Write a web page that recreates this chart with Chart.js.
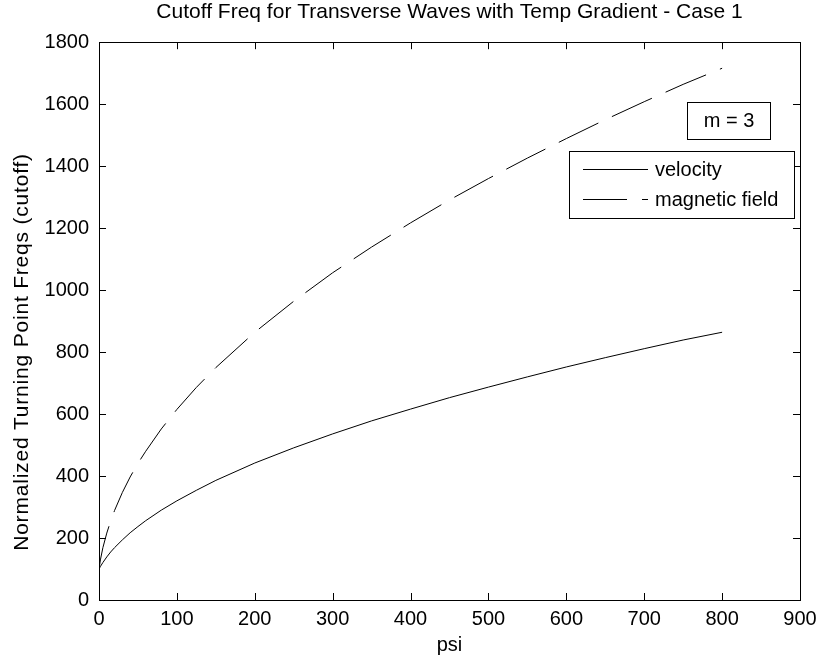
<!DOCTYPE html>
<html>
<head>
<meta charset="utf-8">
<title>Cutoff Freq for Transverse Waves</title>
<script src="https://cdn.jsdelivr.net/npm/chart.js@4.4.1/dist/chart.umd.min.js"></script>
<style>
  html, body { margin: 0; padding: 0; background: #fff; }
  #wrap { width: 827px; height: 659px; }
</style>
</head>
<body>
<div id="wrap"><canvas id="cutoffChart" width="827" height="659"></canvas></div>
<script>
// values
const psi = [0, 2, 5, 10, 15, 20, 30, 40, 50, 60, 80, 100, 125, 150, 200, 250, 300, 350, 400, 450, 500, 550, 600, 650, 700, 750, 800];
const velocity = [100, 109, 121, 139, 155, 169, 194, 217, 237, 256, 290, 320, 354, 386, 442, 491, 536, 578, 616, 653, 687, 720, 752, 782, 811, 839, 864];
const magneticField = [100, 132, 169, 216, 255, 289, 347, 397, 441, 480, 552, 615, 686, 750, 864, 964, 1056, 1139, 1217, 1291, 1360, 1426, 1489, 1550, 1608, 1664, 1716];

const seriesNames = ['velocity', 'magnetic field'];
const xTicks = [0, 100, 200, 300, 400, 500, 600, 700, 800, 900];
const yTicks = [0, 200, 400, 600, 800, 1000, 1200, 1400, 1600, 1800];
const annotationText = 'm = 3';
const yTitle = 'Normalized Turning Point Freqs (cutoff)';

const FONT = '"Liberation Sans", Arial, Helvetica, sans-serif';
Chart.defaults.font.family = FONT;
Chart.defaults.font.size = 20;
Chart.defaults.color = '#000';

function toPoints(xs, ys) {
    return xs.map((x, i) => ({ x: x, y: ys[i] }));
}

// MATLAB style box: frame plus inward ticks on all four sides
const matlabBox = {
    id: 'matlabBox',
    afterDatasetsDraw(chart) {
        const ctx = chart.ctx;
        const area = chart.chartArea;
        const xs = chart.scales.x;
        const ys = chart.scales.y;
        const tick = 7;
        ctx.save();
        ctx.strokeStyle = '#000';
        ctx.lineWidth = 1;
        ctx.beginPath();
        xTicks.forEach(v => {
            const px = Math.round(xs.getPixelForValue(v)) + 0.5;
            ctx.moveTo(px, area.bottom);
            ctx.lineTo(px, area.bottom - tick);
            ctx.moveTo(px, area.top);
            ctx.lineTo(px, area.top + tick);
        });
        yTicks.forEach(v => {
            const py = Math.round(ys.getPixelForValue(v)) + 0.5;
            ctx.moveTo(area.left, py);
            ctx.lineTo(area.left + tick, py);
            ctx.moveTo(area.right, py);
            ctx.lineTo(area.right - tick, py);
        });
        ctx.stroke();
        ctx.strokeRect(Math.round(area.left) + 0.5, Math.round(area.top) + 0.5,
            Math.round(area.right - area.left), Math.round(area.bottom - area.top));

        // y axis label, a bit wider and lower than the chart.js default one
        ctx.translate(22, 352);
        ctx.rotate(-Math.PI / 2);
        ctx.font = '21px ' + FONT;
        ctx.letterSpacing = '0.8px';
        ctx.fillStyle = '#000';
        ctx.textAlign = 'center';
        ctx.textBaseline = 'middle';
        ctx.fillText(yTitle, 0, 0);
        ctx.restore();
    }
};

// legend box and the "m = 3" text box, placed inside the axes like the original
const legendBoxes = {
    id: 'legendBoxes',
    afterDraw(chart) {
        const ctx = chart.ctx;
        ctx.save();
        ctx.strokeStyle = '#000';
        ctx.lineWidth = 1;
        ctx.fillStyle = '#fff';

        // annotation
        ctx.fillRect(687, 102, 83, 37);
        ctx.strokeRect(687.5, 102.5, 83, 37);
        ctx.fillStyle = '#000';
        ctx.font = '20px ' + FONT;
        ctx.textAlign = 'center';
        ctx.textBaseline = 'middle';
        ctx.fillText(annotationText, 729, 121);

        // legend
        ctx.fillStyle = '#fff';
        ctx.fillRect(569, 151, 225, 67);
        ctx.strokeRect(569.5, 151.5, 225, 67);
        const rows = [169, 199];
        chart.data.datasets.forEach((ds, i) => {
            const y = rows[i] + 0.5;
            ctx.strokeStyle = ds.borderColor;
            ctx.setLineDash(ds.borderDash || []);
            ctx.beginPath();
            ctx.moveTo(583, y);
            ctx.lineTo(648, y);
            ctx.stroke();
            ctx.setLineDash([]);
            ctx.fillStyle = '#000';
            ctx.textAlign = 'left';
            ctx.fillText(ds.label, 655, rows[i] + 1);
        });
        ctx.restore();
    }
};

new Chart(document.getElementById('cutoffChart'), {
    type: 'line',
    data: {
        datasets: [
            {
                label: seriesNames[0],
                data: toPoints(psi, velocity),
                borderColor: '#000',
                borderWidth: 1,
                pointRadius: 0,
                tension: 0,
                fill: false
            },
            {
                label: seriesNames[1],
                data: toPoints(psi, magneticField),
                borderColor: '#000',
                borderWidth: 1,
                borderDash: [44, 15],
                pointRadius: 0,
                tension: 0,
                fill: false
            }
        ]
    },
    options: {
        responsive: false,
        animation: false,
        layout: { padding: { left: 0, right: 27, top: 0, bottom: 0 } },
        plugins: {
            legend: { display: false },
            tooltip: { enabled: false },
            title: {
                display: true,
                fullSize: false,
                text: 'Cutoff Freq for Transverse Waves with Temp Gradient - Case 1',
                font: { size: 21, weight: 'normal' },
                color: '#000',
                padding: { top: 0, bottom: 17 }
            }
        },
        scales: {
            x: {
                type: 'linear',
                min: 0,
                max: 900,
                afterBuildTicks: s => { s.ticks = xTicks.map(v => ({ value: v })); },
                afterFit: s => { s.height = 59; },
                grid: { display: false, drawTicks: false },
                border: { display: false },
                ticks: { padding: 7, maxRotation: 0, autoSkip: false, font: { size: 20 }, callback: v => String(v) },
                title: { display: true, text: 'psi', font: { size: 20 }, padding: { top: 0, bottom: 2 } }
            },
            y: {
                type: 'linear',
                min: 0,
                max: 1800,
                afterBuildTicks: s => { s.ticks = yTicks.map(v => ({ value: v })); },
                afterFit: s => { s.width = 99; },
                grid: { display: false, drawTicks: false },
                border: { display: false },
                ticks: { padding: 10, autoSkip: false, font: { size: 20 }, callback: v => String(v) },
                title: { display: false }
            }
        }
    },
    plugins: [matlabBox, legendBoxes]
});
</script>
</body>
</html>
